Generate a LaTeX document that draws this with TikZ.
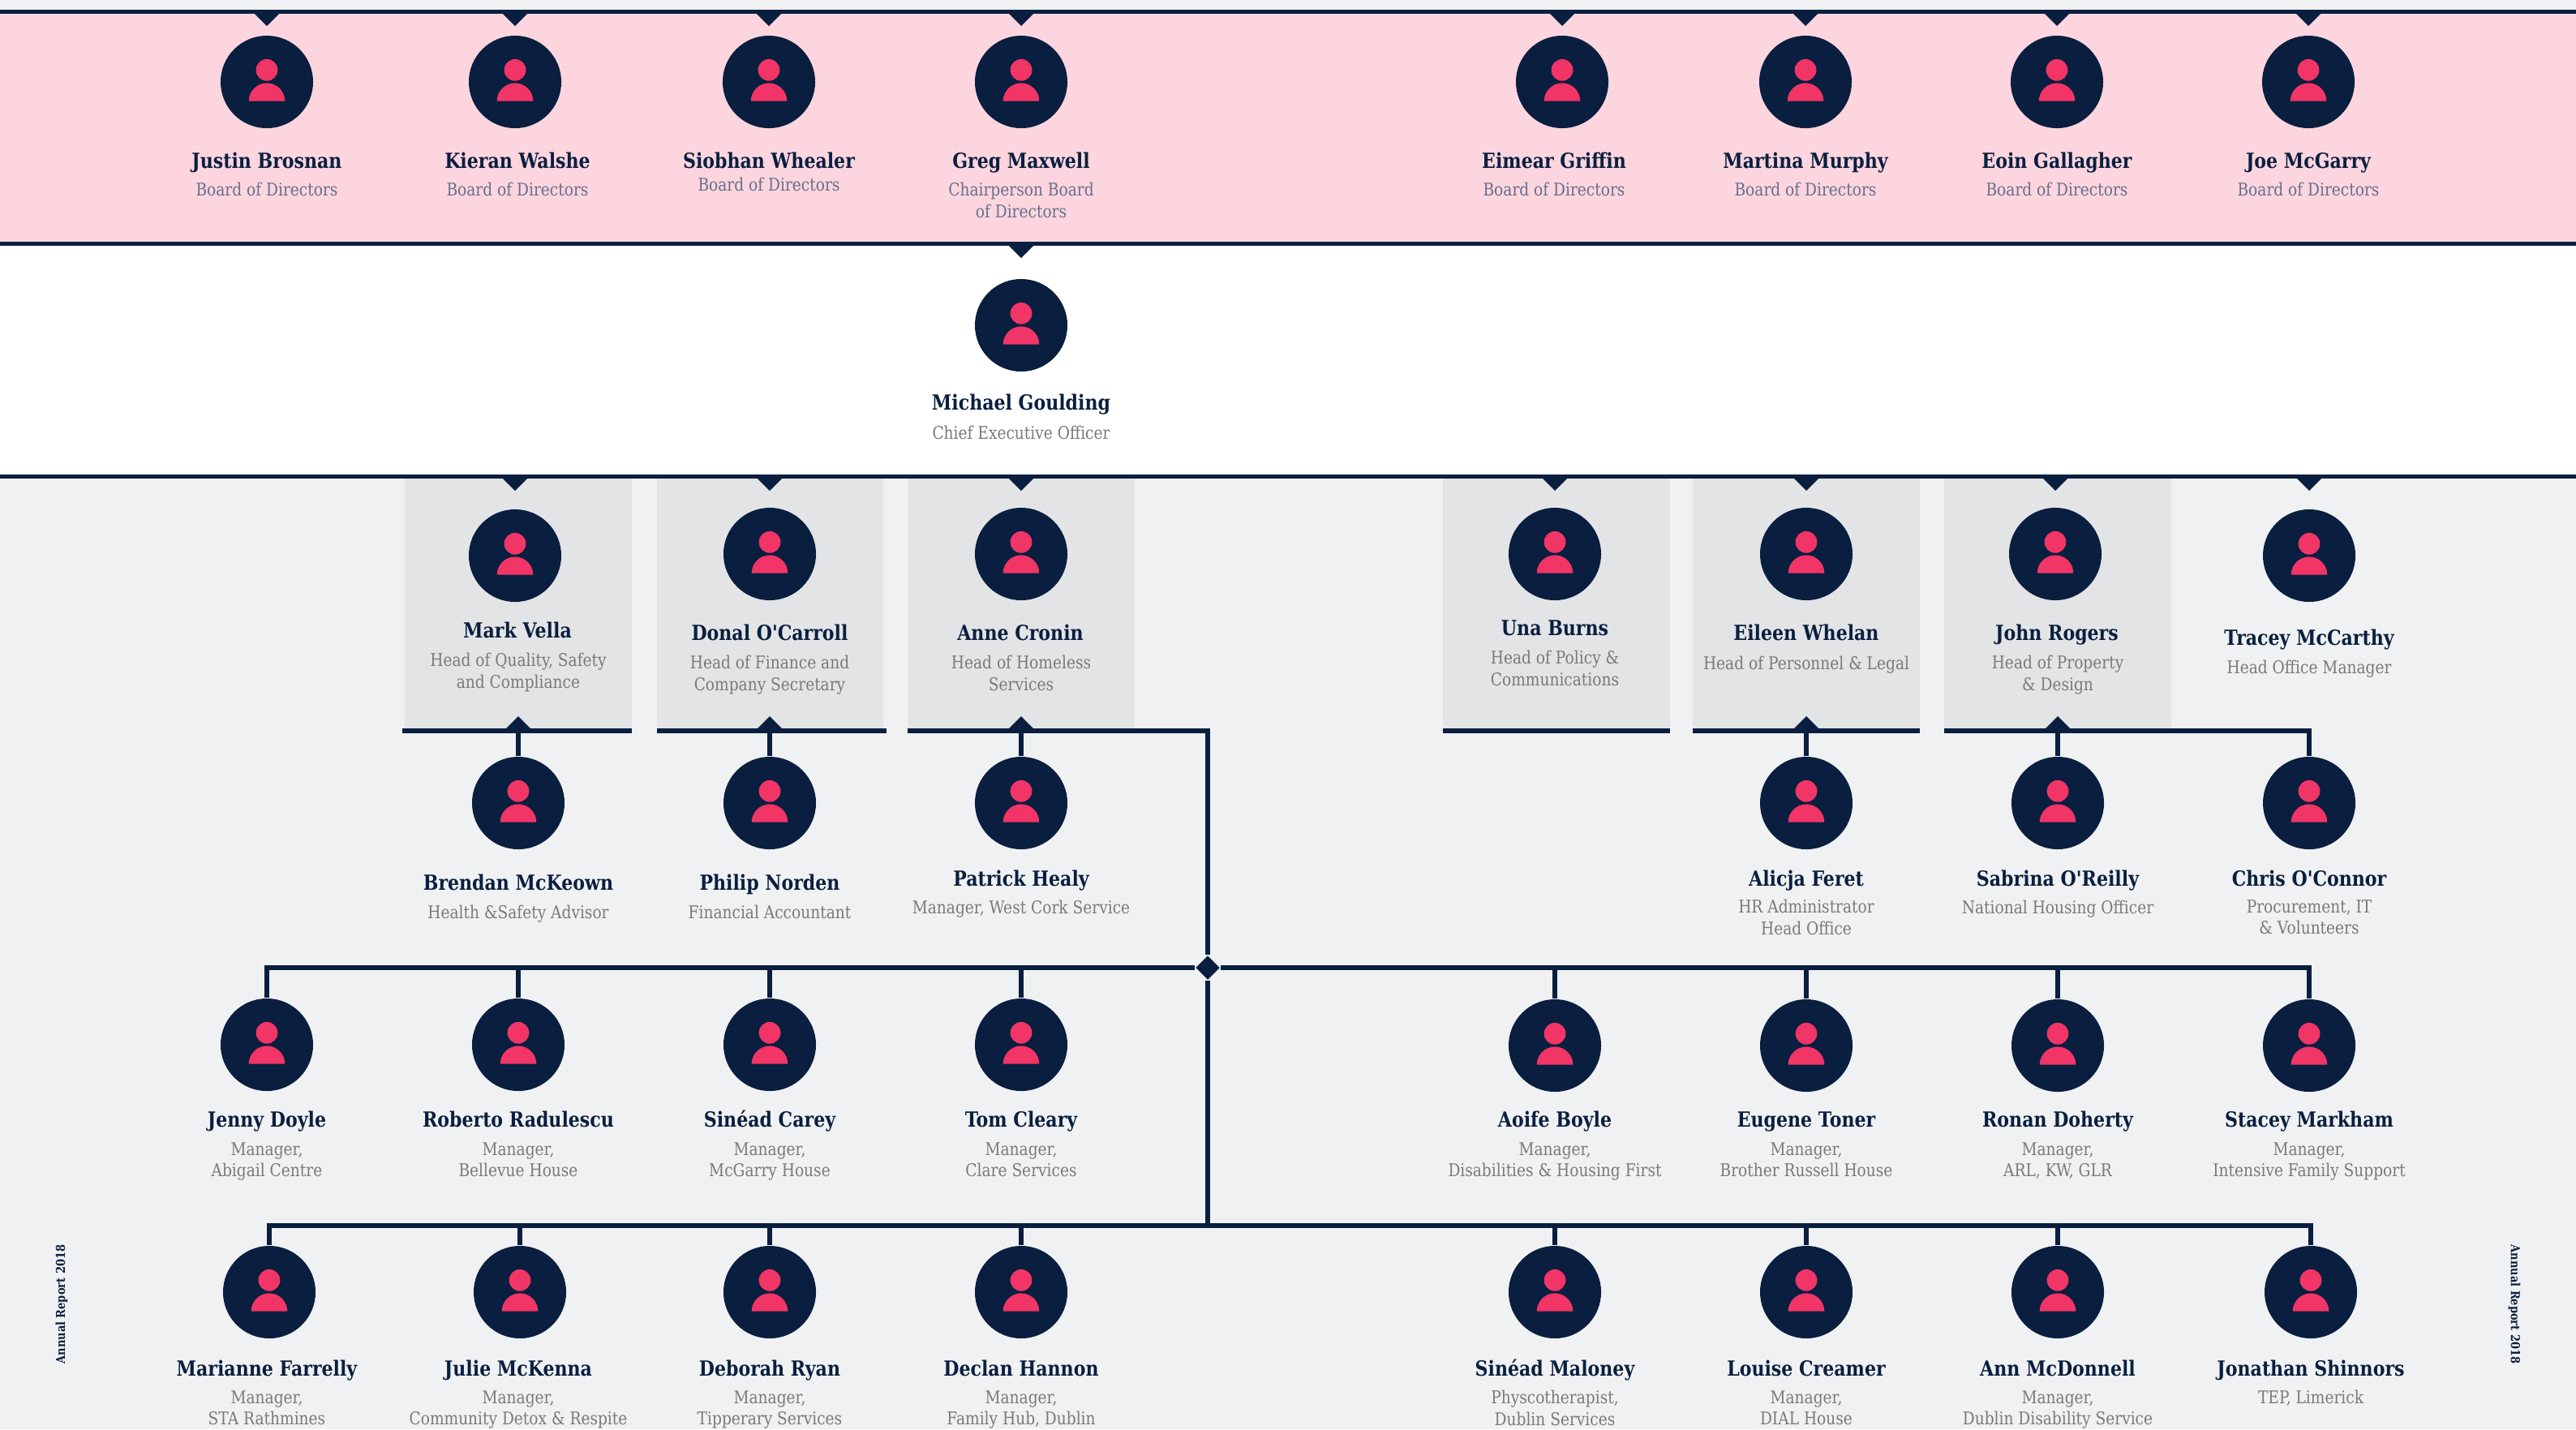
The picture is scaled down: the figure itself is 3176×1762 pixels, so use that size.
\documentclass[tikz,border=0pt]{standalone}
\usepackage{fontspec}
\usetikzlibrary{shapes.geometric}
\newfontfamily\slab[FakeStretch=0.86]{DejaVu Serif}
\definecolor{navy}{HTML}{0A1F3F}
\definecolor{rose}{HTML}{F13566}
\definecolor{blush}{HTML}{FDD5DF}
\definecolor{paper}{HTML}{F0F1F3}
\definecolor{panel}{HTML}{E3E4E6}
\definecolor{slate}{HTML}{7A7A7A}
\definecolor{dusk}{HTML}{66708A}
\tikzset{
    staff/.style={circle, fill=navy, inner sep=0pt, minimum size=1.14cm},
    hub/.style={diamond, fill=navy, inner sep=0pt, minimum size=0.3cm},
    link/.style={navy, line width=1.65pt},
    struts/.style={yshift=-0.035cm, execute at begin node={\strut}, execute at end node={\strut}},
    who/.style={struts, text=navy, font=\slab\bfseries\fontsize{7.3}{9}\selectfont, inner sep=0pt},
    role/.style={struts, text=slate, align=center, font=\slab\fontsize{6.15}{7.6}\selectfont, inner sep=0pt},
    boardrole/.style={role, text=dusk},
    stamp/.style={text=navy, font=\slab\bfseries\fontsize{4.3}{5}\selectfont, inner sep=0pt},
}
\newcommand{\staff}[3]{
    \node[staff] (#1) at(#2,#3) {};
    \fill[rose] (#2,#3-14.7) circle(13.4);
    \fill[rose] (#2-22.3,#3+23.7) arc(180:360:22.3) -- cycle;
}
\newcommand{\tipdown}[2]{\fill[navy] (#1-16,#2) -- (#1+16,#2) -- (#1,#2+16) -- cycle;}
\newcommand{\tipup}[2]{\fill[navy] (#1-16,#2) -- (#1+16,#2) -- (#1,#2-16) -- cycle;}
\begin{document}
\begin{tikzpicture}[x=0.01cm, y=-0.01cm]
    \useasboundingbox (0,0) rectangle (3176,1762);

    % bands
    \fill[paper] (0,0) rectangle (3176,1762);
    \fill[blush] (0,15) rectangle (3176,300);
    \fill[white] (0,300) rectangle (3176,588);
    \fill[panel] (499,588) rectangle (779,900);
    \fill[panel] (810,588) rectangle (1089,900);
    \fill[panel] (1119,588) rectangle (1399,900);
    \fill[panel] (1779,588) rectangle (2059,900);
    \fill[panel] (2087,588) rectangle (2367,900);
    \fill[panel] (2397,588) rectangle (2677,900);

    % board
    \staff{justin}{329}{101}
    \staff{kieran}{635}{101}
    \staff{siobhan}{948}{101}
    \staff{greg}{1259}{101}
    \staff{eimear}{1926}{101}
    \staff{martina}{2226}{101}
    \staff{eoin}{2536}{101}
    \staff{joe}{2846}{101}
    \node[who] (justinname) at(329,198) {Justin Brosnan};
    \node[who] (kieranname) at(638,198) {Kieran Walshe};
    \node[who] (siobhanname) at(948,198) {Siobhan Whealer};
    \node[who] (gregname) at(1259,198) {Greg Maxwell};
    \node[who] (eimearname) at(1916,198) {Eimear Griffin};
    \node[who] (martinaname) at(2226,198) {Martina Murphy};
    \node[who] (eoinname) at(2536,198) {Eoin Gallagher};
    \node[who] (joename) at(2846,198) {Joe McGarry};
    \node[boardrole] (justinrole) at(329,233) {Board of Directors};
    \node[boardrole] (kieranrole) at(638,233) {Board of Directors};
    \node[boardrole] (siobhanrole) at(948,227) {Board of Directors};
    \node[boardrole] (gregrole) at(1259,247) {Chairperson Board\\of Directors};
    \node[boardrole] (eimearrole) at(1916,233) {Board of Directors};
    \node[boardrole] (martinarole) at(2226,233) {Board of Directors};
    \node[boardrole] (eoinrole) at(2536,233) {Board of Directors};
    \node[boardrole] (joerole) at(2846,233) {Board of Directors};

    % chief executive
    \staff{michael}{1259}{401}
    \node[who] (michaelname) at(1259,496) {Michael Goulding};
    \node[role] (michaelrole) at(1259,533) {Chief Executive Officer};

    % heads
    \staff{mark}{635}{685}
    \staff{donal}{949}{683}
    \staff{anne}{1259}{683}
    \staff{una}{1917}{683}
    \staff{eileen}{2227}{683}
    \staff{john}{2534}{683}
    \staff{tracey}{2847}{685}
    \node[who] (markname) at(638,777) {Mark Vella};
    \node[who] (donalname) at(949,780) {Donal O'Carroll};
    \node[who] (annename) at(1258,780) {Anne Cronin};
    \node[who] (unaname) at(1917,774) {Una Burns};
    \node[who] (eileenname) at(2227,780) {Eileen Whelan};
    \node[who] (johnname) at(2536,780) {John Rogers};
    \node[who] (traceyname) at(2847,786) {Tracey McCarthy};
    \node[role] (markrole) at(639,827) {Head of Quality, Safety\\and Compliance};
    \node[role] (donalrole) at(949,830) {Head of Finance and\\Company Secretary};
    \node[role] (annerole) at(1259,830) {Head of Homeless\\Services};
    \node[role] (unarole) at(1917,824) {Head of Policy \&\\Communications};
    \node[role] (eileenrole) at(2227,817) {Head of Personnel \& Legal};
    \node[role] (johnrole) at(2537,830) {Head of Property\\\& Design};
    \node[role] (traceyrole) at(2847,822) {Head Office Manager};

    % second line
    \staff{brendan}{639}{990}
    \staff{philip}{949}{990}
    \staff{patrick}{1259}{990}
    \staff{alicja}{2227}{990}
    \staff{sabrina}{2537}{990}
    \staff{chris}{2847}{990}
    \node[who] (brendanname) at(639,1088) {Brendan McKeown};
    \node[who] (philipname) at(949,1088) {Philip Norden};
    \node[who] (patrickname) at(1259,1083) {Patrick Healy};
    \node[who] (alicjaname) at(2227,1083) {Alicja Feret};
    \node[who] (sabrinaname) at(2537,1083) {Sabrina O'Reilly};
    \node[who] (chrisname) at(2847,1083) {Chris O'Connor};
    \node[role] (brendanrole) at(639,1124) {Health \&Safety Advisor};
    \node[role] (philiprole) at(949,1124) {Financial Accountant};
    \node[role] (patrickrole) at(1259,1118) {Manager, West Cork Service};
    \node[role] (alicjarole) at(2227,1131) {HR Administrator\\Head Office};
    \node[role] (sabrinarole) at(2537,1118) {National Housing Officer};
    \node[role] (chrisrole) at(2847,1131) {Procurement, IT\\\& Volunteers};

    % managers
    \staff{jenny}{329}{1288}
    \staff{roberto}{639}{1288}
    \staff{sinead}{949}{1288}
    \staff{tom}{1259}{1288}
    \staff{aoife}{1917}{1289}
    \staff{eugene}{2227}{1289}
    \staff{ronan}{2537}{1289}
    \staff{stacey}{2847}{1289}
    \node[who] (jennyname) at(329,1380) {Jenny Doyle};
    \node[who] (robertoname) at(639,1380) {Roberto Radulescu};
    \node[who] (sineadname) at(949,1380) {Sinéad Carey};
    \node[who] (tomname) at(1259,1380) {Tom Cleary};
    \node[who] (aoifename) at(1917,1380) {Aoife Boyle};
    \node[who] (eugenename) at(2227,1380) {Eugene Toner};
    \node[who] (ronanname) at(2537,1380) {Ronan Doherty};
    \node[who] (staceyname) at(2847,1380) {Stacey Markham};
    \node[role] (jennyrole) at(329,1430) {Manager,\\Abigail Centre};
    \node[role] (robertorole) at(639,1430) {Manager,\\Bellevue House};
    \node[role] (sineadrole) at(949,1430) {Manager,\\McGarry House};
    \node[role] (tomrole) at(1259,1430) {Manager,\\Clare Services};
    \node[role] (aoiferole) at(1917,1430) {Manager,\\Disabilities \& Housing First};
    \node[role] (eugenerole) at(2227,1430) {Manager,\\Brother Russell House};
    \node[role] (ronanrole) at(2537,1430) {Manager,\\ARL, KW, GLR};
    \node[role] (staceyrole) at(2847,1430) {Manager,\\Intensive Family Support};

    % last row
    \staff{marianne}{332}{1593}
    \staff{julie}{641}{1593}
    \staff{deborah}{949}{1593}
    \staff{declan}{1259}{1593}
    \staff{maloney}{1917}{1593}
    \staff{louise}{2227}{1593}
    \staff{ann}{2537}{1593}
    \staff{jonathan}{2849}{1593}
    \node[who] (mariannename) at(329,1687) {Marianne Farrelly};
    \node[who] (juliename) at(639,1687) {Julie McKenna};
    \node[who] (deborahname) at(949,1687) {Deborah Ryan};
    \node[who] (declanname) at(1259,1687) {Declan Hannon};
    \node[who] (maloneyname) at(1917,1687) {Sinéad Maloney};
    \node[who] (louisename) at(2227,1687) {Louise Creamer};
    \node[who] (annname) at(2537,1687) {Ann McDonnell};
    \node[who] (jonathanname) at(2849,1687) {Jonathan Shinnors};
    \node[role] (mariannerole) at(329,1736) {Manager,\\STA Rathmines};
    \node[role] (julierole) at(639,1736) {Manager,\\Community Detox \& Respite};
    \node[role] (deborahrole) at(949,1736) {Manager,\\Tipperary Services};
    \node[role] (declanrole) at(1259,1736) {Manager,\\Family Hub, Dublin};
    \node[role] (maloneyrole) at(1917,1736) {Physcotherapist,\\Dublin Services};
    \node[role] (louiserole) at(2227,1736) {Manager,\\DIAL House};
    \node[role] (annrole) at(2537,1736) {Manager,\\Dublin Disability Service};
    \node[role] (jonathanrole) at(2849,1722) {TEP, Limerick};

    \node[stamp, rotate=90] (stampleft) at(76,1608) {Annual Report 2018};
    \node[stamp, rotate=-90] (stampright) at(3100,1608) {Annual Report 2018};

    % band rules
    \coordinate (topl) at(0,14.5);
    \coordinate (topr) at(3176,14.5);
    \coordinate (midl) at(0,300.5);
    \coordinate (midr) at(3176,300.5);
    \coordinate (lowl) at(0,587.5);
    \coordinate (lowr) at(3176,587.5);
    \draw[link] (topl) -- (topr);
    \draw[link] (midl) -- (midr);
    \draw[link] (lowl) -- (lowr);

    % shelves under the heads
    \coordinate (markl) at(496,901);
    \coordinate (markr) at(779,901);
    \coordinate (donall) at(810,901);
    \coordinate (donalr) at(1093,901);
    \coordinate (annel) at(1119,901);
    \coordinate (unal) at(1779,901);
    \coordinate (unar) at(2059,901);
    \coordinate (eileenl) at(2087,901);
    \coordinate (eileenr) at(2367,901);
    \coordinate (johnl) at(2397,901);
    \draw[link] (markl) -- (markr);
    \draw[link] (donall) -- (donalr);
    \draw[link] (unal) -- (unar);
    \draw[link] (eileenl) -- (eileenr);
    \draw[link] (johnl) -| (chris.north);
    \draw[link] (brendan.north) -- (brendan.north |- markl);
    \draw[link] (philip.north) -- (philip.north |- donall);
    \draw[link] (patrick.north) -- (patrick.north |- annel);
    \draw[link] (alicja.north) -- (alicja.north |- eileenl);
    \draw[link] (sabrina.north) -- (sabrina.north |- johnl);

    % trunk
    \node[hub] (hub) at(1489,1193) {};
    \coordinate (foot) at(1489,1511);
    \draw[link] (annel) -| (hub.north);
    \draw[link] (hub.south) -- (foot);

    \draw[link] (jenny.north) |- (hub.west);
    \draw[link] (roberto.north) -- (roberto.north |- hub);
    \draw[link] (sinead.north) -- (sinead.north |- hub);
    \draw[link] (tom.north) -- (tom.north |- hub);
    \draw[link] (stacey.north) |- (hub.east);
    \draw[link] (aoife.north) -- (aoife.north |- hub);
    \draw[link] (eugene.north) -- (eugene.north |- hub);
    \draw[link] (ronan.north) -- (ronan.north |- hub);

    \draw[link] (marianne.north) |- (foot);
    \draw[link] (julie.north) -- (julie.north |- foot);
    \draw[link] (deborah.north) -- (deborah.north |- foot);
    \draw[link] (declan.north) -- (declan.north |- foot);
    \draw[link] (jonathan.north) |- (foot);
    \draw[link] (maloney.north) -- (maloney.north |- foot);
    \draw[link] (louise.north) -- (louise.north |- foot);
    \draw[link] (ann.north) -- (ann.north |- foot);

    % tips
    \tipdown{329}{16}
    \tipdown{635}{16}
    \tipdown{948}{16}
    \tipdown{1259}{16}
    \tipdown{1926}{16}
    \tipdown{2226}{16}
    \tipdown{2536}{16}
    \tipdown{2846}{16}
    \tipdown{1259}{302}
    \tipdown{635}{589}
    \tipdown{949}{589}
    \tipdown{1259}{589}
    \tipdown{1917}{589}
    \tipdown{2227}{589}
    \tipdown{2534}{589}
    \tipdown{2847}{589}
    \tipup{639}{899}
    \tipup{949}{899}
    \tipup{1259}{899}
    \tipup{2227}{899}
    \tipup{2537}{899}
\end{tikzpicture}
\end{document}
